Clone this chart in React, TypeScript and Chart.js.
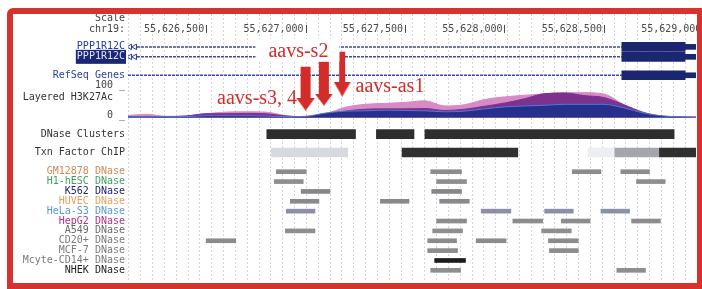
import React, { useEffect, useRef } from 'react';
import { Chart, registerables } from 'chart.js';

Chart.register(...registerables);

// ---------- genome window (chr19) ----------
const VIEW_START = 55626107;
const VIEW_END = 55628963;
const POSITION_TICKS = [55626500, 55627000, 55627500, 55628000, 55628500, 55629000];
const GUIDE_START = 55626112;
const GUIDE_STEP = 59.5;

// ---------- gene models ----------
const PPP1R12C_INTRON = [55626132, 55628590];
const REFSEQ_INTRON = [55626107, 55628590];
const PPP1R12C_CDS = [55628590, 55628908];
const PPP1R12C_UTR = [55628908, 55629000];
const STRAND_MARKS = [55626117, 55626142];

// ---------- layered H3K27Ac signal ----------
const SIGNAL_POS = [
  55626100, 55626200, 55626300, 55626400, 55626500, 55626600, 55626700, 55626800, 55626900, 55627000,
  55627100, 55627200, 55627300, 55627400, 55627500, 55627600, 55627700, 55627800, 55627900, 55628000,
  55628100, 55628200, 55628300, 55628400, 55628500, 55628600, 55628700, 55628800, 55628900, 55629000,
];
const H3K27AC_PINK = [6, 10, 4, 5, 12, 17, 18, 17, 6, 2, 12, 32, 41, 44, 47, 52, 36, 40, 56, 64, 69, 73, 77, 77, 73, 40, 12, 4, 2, 2];
const H3K27AC_PURPLE = [3, 3, 3, 5, 12, 12, 13, 12, 5, 2, 8, 20, 26, 27, 27, 28, 22, 26, 35, 45, 58, 74, 76, 68, 62, 40, 16, 4, 2, 1];
const H3K27AC_BLUE = [2, 2, 3, 3, 6, 6, 6, 5, 3, 4, 14, 20, 21, 23, 22, 21, 18, 20, 27, 33, 36, 38, 41, 41, 41, 30, 14, 5, 2, 1];

// ---------- clusters / ChIP ----------
const DNASE_CLUSTERS = [[55626805, 55627251], [55627356, 55627545], [55627600, 55628853]];
const TXN_STRONG = [[55627485, 55628067], [55628779, 55629000]];
const TXN_MEDIUM = [[55628555, 55628779]];
const TXN_LIGHT = [[55626828, 55627212]];
const TXN_FAINT = [[55628420, 55628555]];

// ---------- DNase per cell line ----------
const DNASE_GM12878 = [[55626853, 55627003], [55627629, 55627784], [55628341, 55628485], [55628585, 55628729]];
const DNASE_H1HESC = [[55626843, 55626988], [55627659, 55627809], [55628664, 55628808]];
const DNASE_K562 = [[55626978, 55627122], [55627634, 55627784]];
const DNASE_HUVEC = [[55626923, 55627067], [55627376, 55627520], [55627674, 55627823]];
const DNASE_HELAS3 = [[55626903, 55627047], [55627883, 55628032], [55628202, 55628346], [55628485, 55628629]];
const DNASE_HEPG2 = [[55627659, 55627809], [55628042, 55628192], [55628286, 55628430], [55628639, 55628784]];
const DNASE_A549 = [[55626898, 55627047], [55627639, 55627789], [55628187, 55628336]];
const DNASE_CD20 = [[55626500, 55626649], [55627614, 55627759], [55627858, 55628008], [55628221, 55628371]];
const DNASE_MCF7 = [[55627614, 55627764], [55628226, 55628371]];
const DNASE_MCYTE = [[55627649, 55627804]];
const DNASE_NHEK = [[55627629, 55627779], [55628565, 55628709]];

const CELL_LINES = ['GM12878', 'H1-hESC', 'K562', 'HUVEC', 'HeLa-S3', 'HepG2', 'A549', 'CD20+', 'MCF-7', 'Mcyte-CD14+', 'NHEK'];
const CELL_PEAKS = [DNASE_GM12878, DNASE_H1HESC, DNASE_K562, DNASE_HUVEC, DNASE_HELAS3, DNASE_HEPG2, DNASE_A549, DNASE_CD20, DNASE_MCF7, DNASE_MCYTE, DNASE_NHEK];

// ---------- sgRNA annotations ----------
const ARROW_SITES = [55627000, 55627092, 55627184];
const ANNOT_TEXT = ['aavs-s3, 4', 'aavs-s2', 'aavs-as1'];
const ANNOT_ANCHOR = [55626555, 55626813, 55627251];

// ---------- layout (pixel rows, styles) ----------
const AREA_TOP = 14;
const AREA_BOTTOM = 281;
const ROW = {
  scale: 18, chrom: 29, gene1: 47, gene2: 57, refseq: 75.5, sigTop: 86, layered: 98, sigZero: 116,
  clusters: 134.5, txn: 153, dnase0: 172.3, dnaseStep: 9.9,
};
const SIG_ZERO_Y = 118;
const SIG_FULL_Y = 85.5;
const ANNOT_BASELINE = [104, 57, 92];
const ARROW_SHAFT_TOP = [67, 62, 52];
const ARROW_SHAFT_BOTTOM = [99, 96, 84];
const ARROW_HEAD_Y = [104.5, 100, 89.5];
const ARROW_HEAD_W = [19, 18, 17];
const ARROW_HEAD_H = [13, 12, 15];
const ARROW_WIDTH = [10, 10, 6];
const RED = '#d42c28';
const CELL_LABEL_COLORS = ['#cf8a52', '#3f9f5c', '#22226e', '#e3a15e', '#5b97d4', '#b4317c', '#6a6a6a', '#7a7a7a', '#7a7a7a', '#7a7a7a', '#1e1e1e'];
const CELL_BAR_COLORS = ['#8c8c8c', '#8e8e8e', '#85858c', '#8a8a8a', '#8a90a8', '#8c8c8c', '#8e8e8e', '#8c8c8c', '#8c8c8c', '#1c1c1c', '#8e8e8e'];
const MONO = '"DejaVu Sans Mono", monospace';

type Lbl = { y: number; text: string; color: string; backdrop?: string };
const LABELS: Lbl[] = [
  { y: ROW.scale, text: 'Scale', color: '#444' },
  { y: ROW.chrom, text: 'chr19:', color: '#444' },
  { y: ROW.gene1, text: 'PPP1R12C', color: '#2338a0' },
  { y: ROW.gene2, text: 'PPP1R12C', color: '#dfe6ff', backdrop: '#1b2775' },
  { y: ROW.refseq, text: 'RefSeq Genes', color: '#2a40a6' },
  { y: ROW.sigTop, text: '100 _', color: '#444' },
  { y: ROW.layered, text: 'Layered H3K27Ac  ', color: '#333' },
  { y: ROW.sigZero, text: '0 _', color: '#444' },
  { y: ROW.clusters, text: 'DNase Clusters', color: '#333' },
  { y: ROW.txn, text: 'Txn Factor ChIP', color: '#333' },
  ...CELL_LINES.map((c, i) => ({ y: ROW.dnase0 + ROW.dnaseStep * i, text: `${c} DNase`, color: CELL_LABEL_COLORS[i] })),
];
const labelFor = (v: number) => LABELS.find((l) => Math.abs(l.y - v) < 0.01) || LABELS[0];

function makeHead(w: number, h: number, color: string) {
  const c = document.createElement('canvas');
  c.width = w;
  c.height = h;
  const g = c.getContext('2d')!;
  g.fillStyle = color;
  g.beginPath();
  g.moveTo(0, 0);
  g.lineTo(w, 0);
  g.lineTo(w / 2, h);
  g.closePath();
  g.fill();
  return c;
}

function bars(label: string, ranges: number[][], row: number, color: string, thickness: number) {
  return {
    type: 'bar' as const,
    label,
    indexAxis: 'y' as const,
    xAxisID: 'x',
    yAxisID: 'y',
    data: ranges.map((r) => ({ x: r, y: row })),
    backgroundColor: color,
    borderWidth: 0,
    barThickness: thickness,
    maxBarThickness: thickness,
    grouped: false,
    categoryPercentage: 1,
    barPercentage: 1,
    order: 4,
  };
}

function signal(label: string, values: number[], fillColor: string, edge: string, order: number) {
  return {
    type: 'line' as const,
    label,
    xAxisID: 'x',
    yAxisID: 'yH',
    data: SIGNAL_POS.map((p, i) => ({ x: p, y: values[i] })),
    backgroundColor: fillColor,
    borderColor: edge,
    borderWidth: 1,
    fill: 'origin',
    pointRadius: 0,
    cubicInterpolationMode: 'monotone' as const,
    order,
  };
}

function intron(label: string, range: number[], row: number) {
  return {
    type: 'line' as const,
    label,
    xAxisID: 'x',
    yAxisID: 'y',
    data: range.map((p) => ({ x: p, y: row })),
    borderColor: '#3a4ba0',
    borderWidth: 1.5,
    borderDash: [3, 1],
    pointRadius: 0,
    order: 6,
  };
}

const overlay = {
  id: 'browserOverlay',
  afterDatasetsDraw(chart: any) {
    const { ctx, scales } = chart;
    const x = scales.x;
    const y = scales.y;
    ctx.save();
    // base position ruler
    ctx.font = `10px ${MONO}`;
    ctx.fillStyle = '#4a4a4a';
    ctx.textBaseline = 'middle';
    const py = y.getPixelForValue(ROW.chrom);
    POSITION_TICKS.forEach((v) => {
      const px = x.getPixelForValue(v);
      ctx.textAlign = 'right';
      ctx.fillText(v.toLocaleString('en-US'), px - 2, py);
      ctx.fillRect(Math.round(px), py - 4, 1, 8);
    });
    // sgRNA labels
    ctx.font = '20px "Liberation Serif", serif';
    ctx.textAlign = 'left';
    ctx.textBaseline = 'alphabetic';
    ANNOT_TEXT.forEach((t, i) => {
      const px = x.getPixelForValue(ANNOT_ANCHOR[i]);
      const py2 = y.getPixelForValue(ANNOT_BASELINE[i]);
      if (i === 1) {
        const w = ctx.measureText(t).width;
        ctx.fillStyle = '#ffffff';
        ctx.fillRect(px - 13, py2 - 18, w + 24, 22.5);
      }
      ctx.fillStyle = RED;
      ctx.fillText(t, px, py2);
    });
    ctx.restore();
  },
};

export default function App() {
  const ref = useRef<HTMLCanvasElement>(null);

  useEffect(() => {
    const heads = ARROW_SITES.map((_, i) => makeHead(ARROW_HEAD_W[i], ARROW_HEAD_H[i], RED));
    const u = (SIG_ZERO_Y - SIG_FULL_Y) / 100;

    const datasets: any[] = [
      {
        type: 'line',
        label: 'arrow heads',
        xAxisID: 'x',
        yAxisID: 'y',
        data: ARROW_SITES.map((s, i) => ({ x: s, y: ARROW_HEAD_Y[i] })),
        showLine: false,
        pointRadius: 5,
        pointStyle: heads,
        order: 0,
      },
      ...ARROW_SITES.map((s, i) => ({
        type: 'line',
        label: `arrow ${i}`,
        xAxisID: 'x',
        yAxisID: 'y',
        data: [{ x: s, y: ARROW_SHAFT_TOP[i] }, { x: s, y: ARROW_SHAFT_BOTTOM[i] }],
        borderColor: RED,
        borderWidth: ARROW_WIDTH[i],
        borderCapStyle: 'butt',
        pointRadius: 0,
        order: 1,
      })),
      {
        type: 'line',
        label: 'strand',
        xAxisID: 'x',
        yAxisID: 'y',
        data: [
          ...STRAND_MARKS.map((p) => ({ x: p, y: ROW.gene1 })),
          ...STRAND_MARKS.map((p) => ({ x: p, y: ROW.gene2 })),
        ],
        showLine: false,
        pointStyle: 'triangle',
        rotation: 270,
        pointRadius: 3.2,
        backgroundColor: '#ffffff',
        borderColor: '#2a3a9a',
        borderWidth: 1,
        order: 5,
      },
      bars('cds1', [PPP1R12C_CDS], ROW.gene1, '#1b2670', 9),
      bars('cds2', [PPP1R12C_CDS], ROW.gene2, '#1b2670', 9),
      bars('cds3', [PPP1R12C_CDS], ROW.refseq, '#1b2670', 9),
      bars('utr1', [PPP1R12C_UTR], ROW.gene1, '#1b2670', 5),
      bars('utr2', [PPP1R12C_UTR], ROW.gene2, '#1b2670', 5),
      bars('utr3', [PPP1R12C_UTR], ROW.refseq, '#1b2670', 5),
      bars('DNase Clusters', DNASE_CLUSTERS, ROW.clusters, '#2e2e2e', 9),
      bars('Txn strong', TXN_STRONG, ROW.txn, '#303030', 9),
      bars('Txn medium', TXN_MEDIUM, ROW.txn, '#a4a6ac', 9),
      bars('Txn light', TXN_LIGHT, ROW.txn, '#d6dadf', 9),
      bars('Txn faint', TXN_FAINT, ROW.txn, '#eceef2', 9),
      ...CELL_LINES.map((c, i) => bars(c, CELL_PEAKS[i], ROW.dnase0 + ROW.dnaseStep * i, CELL_BAR_COLORS[i], 4)),
      intron('PPP1R12C a', PPP1R12C_INTRON, ROW.gene1),
      intron('PPP1R12C b', PPP1R12C_INTRON, ROW.gene2),
      intron('RefSeq', REFSEQ_INTRON, ROW.refseq),
      signal('H3K27Ac blue', H3K27AC_BLUE, '#26308c', '#4b7bd2', 7),
      signal('H3K27Ac purple', H3K27AC_PURPLE, '#7d3290', '#7d3290', 8),
      signal('H3K27Ac pink', H3K27AC_PINK, '#d88ac4', '#d88ac4', 9),
    ];

    const chart = new Chart(ref.current!, {
      type: 'bar',
      data: { datasets },
      plugins: [overlay],
      options: {
        animation: false,
        responsive: false,
        maintainAspectRatio: false,
        events: [],
        layout: { padding: { top: AREA_TOP, bottom: 289 - AREA_BOTTOM, left: 0, right: 0 } },
        plugins: { legend: { display: false }, tooltip: { enabled: false } },
        scales: {
          x: {
            type: 'linear',
            min: VIEW_START,
            max: VIEW_END,
            offset: false,
            beginAtZero: false,
            ticks: { display: false },
            grid: { color: 'rgba(175,180,200,0.55)', lineWidth: 1, drawTicks: false, offset: false },
            border: { display: false, dash: [2, 2] },
            afterBuildTicks: (axis: any) => {
              const t: any[] = [];
              for (let v = GUIDE_START; v <= VIEW_END; v += GUIDE_STEP) t.push({ value: v });
              axis.ticks = t;
            },
            afterFit: (axis: any) => {
              axis.height = 0;
            },
          },
          y: {
            type: 'linear',
            reverse: true,
            min: AREA_TOP,
            max: AREA_BOTTOM,
            offset: false,
            grid: { display: false, drawTicks: false },
            border: { display: false },
            afterBuildTicks: (axis: any) => {
              axis.ticks = LABELS.map((l) => ({ value: l.y }));
            },
            afterFit: (axis: any) => {
              axis.width = 128;
            },
            ticks: {
              autoSkip: false,
              padding: 3,
              font: { family: MONO, size: 10 },
              callback: (v: any) => labelFor(Number(v)).text,
              color: (c: any) => labelFor(c.tick.value).color,
              showLabelBackdrop: (c: any) => !!labelFor(c.tick.value).backdrop,
              backdropColor: (c: any) => labelFor(c.tick.value).backdrop || 'rgba(0,0,0,0)',
              backdropPadding: { x: 1, y: 1 },
            },
          },
          yH: {
            type: 'linear',
            display: false,
            min: -(AREA_BOTTOM - SIG_ZERO_Y) / u,
            max: (SIG_ZERO_Y - AREA_TOP) / u,
          },
        },
      } as any,
    });
    return () => chart.destroy();
  }, []);

  return (
    <div style={{ position: 'absolute', left: 0, top: 0, width: 702, height: 289, overflow: 'hidden', background: '#fff' }}>
      <canvas ref={ref} width={702} height={289} style={{ display: 'block', width: 702, height: 289 }} />
      <div
        style={{
          position: 'absolute',
          left: 7,
          top: 8,
          width: 695,
          height: 281,
          boxSizing: 'border-box',
          borderStyle: 'solid',
          borderColor: '#d8322c',
          borderWidth: '6px 5px 6px 6px',
          borderTopLeftRadius: 6,
          pointerEvents: 'none',
        }}
      />
    </div>
  );
}
